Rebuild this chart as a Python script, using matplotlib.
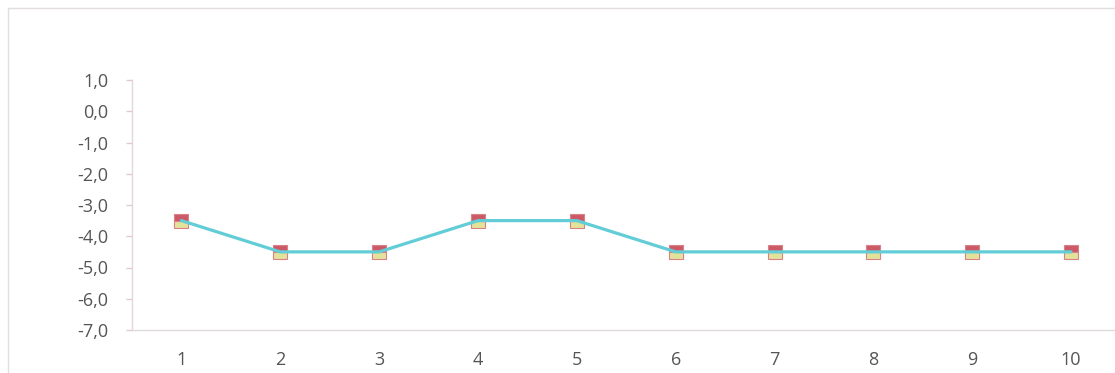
import matplotlib
matplotlib.use("Agg")
import matplotlib.pyplot as plt
from matplotlib.patches import Rectangle
from matplotlib.ticker import FixedLocator, FuncFormatter

# Data
categories = [1, 2, 3, 4, 5, 6, 7, 8, 9, 10]
values = [-3.5, -4.5, -4.5, -3.5, -3.5, -4.5, -4.5, -4.5, -4.5, -4.5]
y_ticks = [1, 0, -1, -2, -3, -4, -5, -6, -7]

plt.rcParams['font.family'] = ['Open Sans', 'DejaVu Sans']

fig = plt.figure(figsize=(11.15, 3.73), dpi=100)
fig.patch.set_facecolor('white')

# light chart-area border
fig.patches.append(Rectangle((8 / 1115, -0.05), 1.2, 1 - 8 / 373 + 0.05,
                             transform=fig.transFigure, fill=False,
                             edgecolor='#e4dde0', linewidth=1.0))

left = 132 / 1115
bottom = 1 - 330 / 373
top = 1 - 80 / 373
right = 1120.5 / 1115
ax = fig.add_axes([left, bottom, right - left, top - bottom])

ax.set_xlim(0.5, 10.5)
ax.set_ylim(-7, 1)

# markers: red top half, pale yellow-green bottom half, drawn beneath the line
ax.plot(categories, values, linestyle='none', marker='s', markersize=10,
        fillstyle='top', markerfacecolor='#cc5a66', markerfacecoloralt='#e3e29a',
        markeredgecolor='#d98088', markeredgewidth=0.8, zorder=2)
ax.plot(categories, values, color='#62cdd6', linewidth=2.3, zorder=3,
        solid_capstyle='round')

ax.yaxis.set_major_locator(FixedLocator(y_ticks))
ax.yaxis.set_major_formatter(FuncFormatter(lambda v, p: f"{v:.1f}".replace('.', ',')))
ax.set_xticks(categories)
ax.set_xticklabels([str(c) for c in categories])

for s in ['top', 'right']:
    ax.spines[s].set_visible(False)
ax.spines['left'].set_color('#e2d6da')
ax.spines['bottom'].set_color('#e0dadc')
ax.spines['left'].set_linewidth(1.0)
ax.spines['bottom'].set_linewidth(1.0)

ax.tick_params(axis='y', colors='#e2c8d0', length=4, width=1, pad=13,
               labelcolor='#555555', labelsize=13)
ax.tick_params(axis='x', length=0, pad=15, labelcolor='#555555', labelsize=13)

fig.savefig('out.png', dpi=100, facecolor='white')
